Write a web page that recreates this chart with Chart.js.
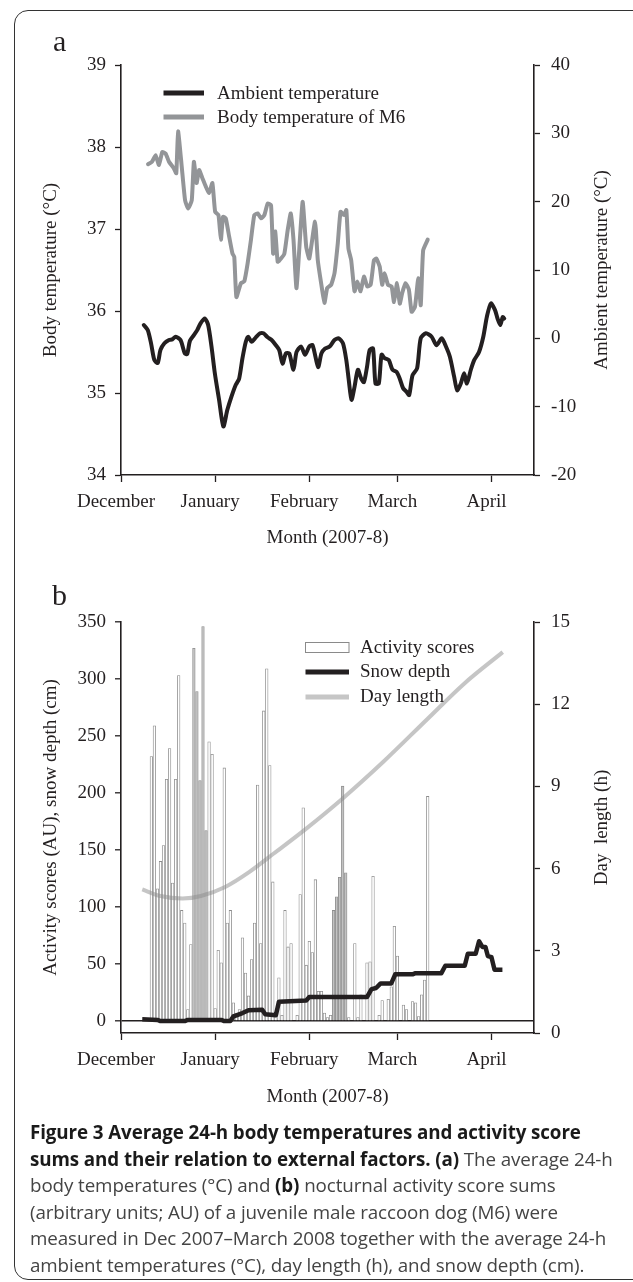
<!DOCTYPE html>
<html><head><meta charset="utf-8">
<script src="https://cdn.jsdelivr.net/npm/chart.js@4.4.1/dist/chart.umd.min.js"></script>
<style>
html,body{margin:0;padding:0;background:#fff;}
body{width:633px;height:1282px;position:relative;overflow:hidden;}
#frame{position:absolute;left:14px;top:10px;width:660px;height:1270px;border:1.5px solid #333;border-radius:14px;box-sizing:border-box;}
#ca{position:absolute;left:0;top:0;}
#cb{position:absolute;left:0;top:570px;}
#cap{position:absolute;left:30px;top:1119px;font-family:"Open Sans";font-size:18.8px;line-height:26.6px;color:#444;white-space:nowrap;letter-spacing:-0.1px;}
#cap b{color:#1a1a1a;font-weight:700}
</style></head>
<body>
<div id="frame"></div>
<canvas id="ca" width="633" height="560"></canvas>
<canvas id="cb" width="633" height="560"></canvas>
<div id="cap"><b>Figure 3 Average 24-h body temperatures and activity score</b><br><b>sums and their relation to external factors. (a)</b> The average 24-h<br>body temperatures (°C) and <b>(b)</b> nocturnal activity score sums<br>(arbitrary units; AU) of a juvenile male raccoon dog (M6) were<br>measured in Dec 2007–March 2008 together with the average 24-h<br>ambient temperatures (°C), day length (h), and snow depth (cm).</div>
<script>
// ---------- DATA (x = days since 1 December 2007) ----------
const monthTicks  = [0, 31, 62, 91, 122];
const monthLabels = ['December', 'January', 'February', 'March', 'April'];

const bodyTicks     = [34, 35, 36, 37, 38, 39];
const ambientTicks  = [-20, -10, 0, 10, 20, 30, 40];
const activityTicks = [0, 50, 100, 150, 200, 250, 300, 350];
const dayLenTicks   = [0, 3, 6, 9, 12, 15];

const ambientDays = [7.5,8.8,9.9,11,12.1,13,14.3,15.8,16.9,18,19.6,21,21.8,22.7,24,25.1,26.2,27.6,28.7,29.8,30.9,32.3,33.7,35,36.4,37.8,38.9,40,41.1,41.9,43,44.4,45.8,46.9,48.3,49.6,51,52.1,53.2,54.3,55.4,56.8,57.8,59.3,60.6,62,63.1,64.9,66,67.2,68.7,70.3,71.7,73.1,74.2,75,75.9,76.9,78,79.1,80,81,81.9,83,83.8,84.9,85.8,86.8,88.2,89.4,90.7,91.8,92.9,94,94.9,96,97.5,98.7,100.4,102.3,103.9,105.6,107,108.3,109.7,110.7,111.9,113,113.9,115.2,116.3,117.9,119.3,120.5,121.8,123.2,124,124.9,125.7,126.2];
const ambientTemp = [1.95,1.22,-0.73,-3.2,-3.6,-1.7,-0.73,-0.25,-0.15,0.23,-0.25,-2.2,-2.3,-0.35,0.48,1.2,2.2,2.9,1.95,-1.2,-5.1,-9.0,-12.9,-10.5,-8.5,-6.8,-5.9,-2.9,-0.5,0.23,-0.5,0.15,0.73,0.73,0.15,-0.25,-1.0,-1.7,-3.7,-2.2,-2.2,-4.6,-2.0,-1.2,-2.4,-1.2,-1.0,-4.2,-2.2,-1.5,-1.2,-0.25,0,-0.73,-3.2,-6.1,-9.0,-7.1,-4.6,-5.9,-6.4,-4.2,-1.7,-1.5,-6.6,-6.6,-2.4,-2.9,-3.2,-4.6,-4.9,-5.9,-7.3,-7.8,-8.3,-5.4,-4.4,0,0.73,0.23,-1.0,0,-1.2,-2.7,-5.6,-7.6,-6.6,-5.1,-6.6,-4.6,-3.2,-2.0,0.23,3.2,5.1,4.1,2.9,1.95,3.1,2.9];

const bodyDays = [8.9,10.2,11.4,12.5,13.6,14.7,15.8,17.4,18.2,18.8,20,21.1,22.1,23.3,24,24.9,25.7,26.8,27.9,29,30.1,31,32.1,32.9,33.6,34.5,35.6,36.7,37.3,38,39.5,40.6,41.7,42.8,43.9,45,46.1,47.2,48.3,49.4,50.1,50.8,51.6,52.7,53.8,54.9,55.9,56.8,57.8,59.8,61,62,63.9,64.8,65.9,67,67.9,69.2,70.3,71.4,72.3,73.4,74.2,74.9,75.8,76.9,77.8,78.9,80,81.1,82.2,83.3,84.1,85.2,86,86.8,87.9,89.1,89.9,90.9,91.8,92.6,93.7,94.8,95.7,96.8,97.9,98.7,99.5,101];
const bodyTemp = [37.79,37.82,37.90,37.78,37.94,37.92,37.82,37.74,37.68,38.19,37.76,37.35,37.25,37.35,37.82,37.56,37.72,37.62,37.52,37.44,37.56,37.21,37.17,36.87,37.15,37.13,36.91,36.70,36.66,36.17,36.34,36.36,36.58,36.87,37.17,37.19,37.13,37.17,37.31,37.29,36.70,36.97,36.60,36.64,36.70,36.99,37.19,36.87,36.28,37.33,36.78,36.64,37.09,36.62,36.34,36.10,36.28,36.32,36.46,36.83,37.21,37.17,37.23,36.76,36.62,36.24,36.36,36.24,36.42,36.30,36.32,36.62,36.64,36.54,36.32,36.46,36.32,36.30,36.11,36.34,36.09,36.22,36.34,36.26,35.99,36.05,36.40,36.07,36.74,36.87];

const activityDays = [10,11,12,13,14,15,16,17,18,19,20,21,22,23,24,25,26,27,28,29,30,31,32,33,34,35,36,37,38,39,40,41,42,43,44,45,46,47,48,49,50,51,52,53,54,55,56,57,58,59,60,61,62,63,64,65,66,67,68,69,70,71,72,73,74,75,76,77,78,79,80,81,82,83,84,85,86,87,88,89,90,91,92,93,94,95,96,97,98,99,100,101];
const activityScores = [232,259,116,140,154,212,239,121,212,303,
  97,86,10,67,327,289,211,346,167,245,
  234,11,62,51,222,86,97,16,7,10,
  73,42,22,54,86,207,68,272,309,224,
  122,8,38,5,97,65,68,0,5,111,
  187,49,70,60,124,26,26,7,3,5,
  97,109,126,206,130,3,0,68,3,23,
  0,51,52,127,0,5,18,0,19,30,
  83,57,0,14,10,0,17,16,4,23,
  36,197];
const shadedActivityDays = [24,25,26,27,28,70,71,72,73,74];

const snowDays  = [7,12,13,21,22,33,34,36,37,38,40,42,46.5,47.5,51,52,61,62,81,82.5,84,85.5,89,90.3,96,97,105.5,106.8,113.2,114.2,116.8,117.9,119,120,120.8,122,123,125.6];
const snowDepth = [1.5,1,0,0,1,1,0,0,4,5,7,9.5,10,6,5,17,18,21,21,28,29,33,33,41,41,42,42,48.5,48.5,59,59,70,65,65,57,56,45,45];

const dayLenDays = [7,13,20.3,26.3,34.3,42.3,50.3,61,73,86.3,101,113,125.7];
const dayLength  = [5.24,5.0,4.91,5.0,5.33,5.88,6.55,7.46,8.56,9.89,11.47,12.75,13.9];

// ---------- STYLE ----------
const INK = '#231f20';
const SERIF = '"Liberation Serif", "Times New Roman", serif';
Chart.defaults.font.family = SERIF;
Chart.defaults.font.size = 19;
Chart.defaults.color = INK;

const pts = (xs, ys) => xs.map((x, i) => ({x, y: ys[i]}));
const fixTicks = arr => s => { s.ticks = arr.map(v => ({value: v})); };

function vText(ctx, text, x, y) {
  ctx.save(); ctx.translate(x, y); ctx.rotate(-Math.PI / 2);
  ctx.textAlign = 'center'; ctx.textBaseline = 'middle';
  ctx.fillText(text, 0, 0); ctx.restore();
}

function xAxis(h) {
  return {
    type: 'linear', min: 0, max: 136, offset: false,
    afterBuildTicks: fixTicks(monthTicks),
    afterFit: s => { s.height = h; },
    ticks: { callback: v => monthLabels[monthTicks.indexOf(v)], maxRotation: 0, autoSkip: false, padding: 9, labelOffset: -5 },
    grid: { display: true, drawOnChartArea: false, offset: false, tickLength: 7, tickColor: INK, tickWidth: 1.3 },
    border: { display: true, color: INK, width: 1.6 }
  };
}
function yAxis(pos, min, max, ticks, w, extraGrid) {
  return Object.assign({
    type: 'linear', position: pos, min, max,
    afterBuildTicks: fixTicks(ticks),
    afterFit: s => { s.width = w; },
    ticks: { padding: pos === 'left' ? 9 : 11 },
    grid: { display: true, drawOnChartArea: false, tickLength: 6, tickColor: INK, tickWidth: 1.3 },
    border: { display: true, color: INK, width: 1.6 }
  }, extraGrid || {});
}

// ---------- PANEL A ----------
const panelA = {
  id: 'panelA',
  afterDraw(chart) {
    const {ctx, chartArea: a} = chart;
    const ds = chart.data.datasets;
    ctx.save();
    ctx.fillStyle = INK;
    ctx.font = '19px ' + SERIF;
    ctx.textAlign = 'center'; ctx.textBaseline = 'middle';
    ctx.fillText('Month (2007-8)', (a.left + a.right) / 2, 538);
    vText(ctx, 'Body temperature (°C)', 51, (a.top + a.bottom) / 2);
    vText(ctx, 'Ambient temperature (°C)', 602, (a.top + a.bottom) / 2);
    // legend
    const rows = [[ds[0], 93], [ds[1], 117]];
    rows.forEach(([d, y]) => {
      ctx.strokeStyle = d.borderColor; ctx.lineWidth = 5; ctx.lineCap = 'butt';
      ctx.beginPath(); ctx.moveTo(163.5, y); ctx.lineTo(204, y); ctx.stroke();
      ctx.textAlign = 'left'; ctx.fillText(d.label, 217, y + 1);
    });
    ctx.font = '30px ' + SERIF; ctx.textAlign = 'left'; ctx.textBaseline = 'alphabetic';
    ctx.fillText('a', 53, 51);
    ctx.restore();
  }
};

new Chart(document.getElementById('ca'), {
  type: 'line',
  data: {
    datasets: [
      { label: 'Ambient temperature', data: pts(ambientDays, ambientTemp), yAxisID: 'y2',
        borderColor: INK, borderWidth: 4, pointRadius: 0, tension: 0.25, borderJoinStyle: 'round', borderCapStyle: 'round' },
      { label: 'Body temperature of M6', data: pts(bodyDays, bodyTemp), yAxisID: 'y',
        borderColor: '#939598', borderWidth: 4, pointRadius: 0, tension: 0.15, borderJoinStyle: 'round', borderCapStyle: 'round' }
    ]
  },
  options: {
    responsive: false, animation: false, devicePixelRatio: 1,
    layout: { padding: { top: 65, left: 0, right: 0, bottom: 0 } },
    plugins: { legend: { display: false }, tooltip: { enabled: false } },
    scales: {
      x: xAxis(85),
      y: yAxis('left', 34, 39, bodyTicks, 121),
      y2: yAxis('right', -20, 40, ambientTicks, 99)
    }
  },
  plugins: [panelA]
});

// ---------- PANEL B ----------
const panelB = {
  id: 'panelB',
  afterDraw(chart) {
    const {ctx, chartArea: a} = chart;
    const ds = chart.data.datasets;
    ctx.save();
    ctx.fillStyle = INK;
    ctx.font = '19px ' + SERIF;
    ctx.textAlign = 'center'; ctx.textBaseline = 'middle';
    ctx.fillText('Month (2007-8)', (a.left + a.right) / 2, 527);
    vText(ctx, 'Activity scores (AU), snow depth (cm)', 51, (a.top + a.bottom) / 2);
    vText(ctx, 'Day  length (h)', 602, (a.top + a.bottom) / 2);
    // legend
    ctx.fillStyle = '#fff'; ctx.strokeStyle = '#8a8a8a'; ctx.lineWidth = 1;
    ctx.fillRect(305.5, 72.5, 43.5, 10); ctx.strokeRect(305.5, 72.5, 43.5, 10);
    ctx.fillStyle = INK; ctx.textAlign = 'left';
    ctx.fillText(ds[0].label, 360, 78);
    [[ds[1], 102, INK], [ds[2], 127, '#c6c6c6']].forEach(([d, y, c]) => {
      ctx.strokeStyle = c; ctx.lineWidth = 5;
      ctx.beginPath(); ctx.moveTo(305.5, y); ctx.lineTo(349, y); ctx.stroke();
      ctx.fillText(d.label, 360, y);
    });
    ctx.font = '30px ' + SERIF; ctx.textAlign = 'left'; ctx.textBaseline = 'alphabetic';
    ctx.fillText('b', 52, 35);
    ctx.restore();
  }
};

new Chart(document.getElementById('cb'), {
  type: 'bar',
  data: {
    datasets: [
      { type: 'bar', label: 'Activity scores', data: pts(activityDays, activityScores), yAxisID: 'y', order: 3,
        backgroundColor: activityDays.map(d => shadedActivityDays.includes(d) ? '#c2c2c2' : '#ffffff'),
        borderColor: '#8c8c8c', borderWidth: 0.8, barThickness: 2.6, borderSkipped: 'bottom' },
      { type: 'line', label: 'Snow depth', data: pts(snowDays, snowDepth), yAxisID: 'y', order: 1,
        borderColor: INK, borderWidth: 4.5, pointRadius: 0, tension: 0, borderJoinStyle: 'round' },
      { type: 'line', label: 'Day length', data: pts(dayLenDays, dayLength), yAxisID: 'y2', order: 2,
        borderColor: 'rgba(140,140,140,0.5)', borderWidth: 4, pointRadius: 0, cubicInterpolationMode: 'monotone' }
    ]
  },
  options: {
    responsive: false, animation: false, devicePixelRatio: 1,
    layout: { padding: { top: 52, left: 0, right: 0, bottom: 0 } },
    plugins: { legend: { display: false }, tooltip: { enabled: false } },
    scales: {
      x: xAxis(97),
      y: yAxis('left', -10.5, 350, activityTicks, 121, {
        grid: { display: true, drawOnChartArea: true, tickLength: 6, tickColor: INK, tickWidth: 1.3,
                lineWidth: 1.6, color: c => (c.tick && c.tick.value === 0) ? INK : 'rgba(0,0,0,0)' }
      }),
      y2: yAxis('right', 0, 15, dayLenTicks, 99)
    }
  },
  plugins: [panelB]
});
</script>
</body></html>
